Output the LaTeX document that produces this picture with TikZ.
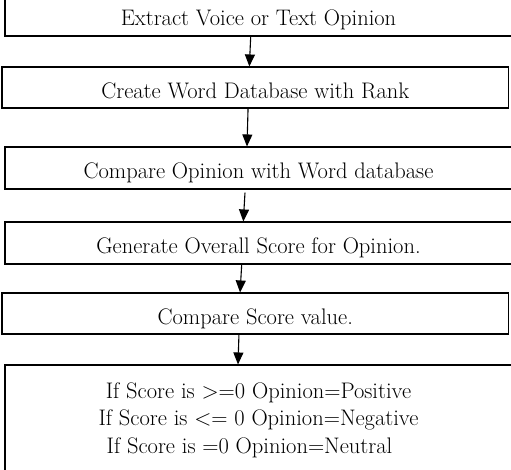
\documentclass[tikz,border=0pt]{standalone}
\usepackage{fontspec}
\usepackage{tikz}
\usetikzlibrary{arrows.meta}

\begin{document}
\begin{tikzpicture}[x=1pt,y=-1pt,
    stage/.style={draw, line width=1.1pt, inner sep=0pt, align=center,
        font=\fontsize{22.5}{27.5}\selectfont},
    oneline/.style={stage, text height=22.5pt, text depth=1pt},
    flow/.style={-{Triangle[width=10pt,length=12pt]}, line width=1.1pt}]
    \useasboundingbox (0,0) rectangle (511,470);
    \clip (0,0) rectangle (511,470);
    % steps
    \node[oneline, minimum width=507pt, minimum height=42pt] (extract) at (258.5,15) {Extract Voice or Text Opinion};
    \node[oneline, minimum width=506.5pt, minimum height=41pt] (database) at (255.25,87.5) {Create Word Database with Rank};
    \node[oneline, minimum width=507pt, minimum height=42pt] (compare) at (258.5,168) {Compare Opinion with Word database};
    \node[oneline, minimum width=507pt, minimum height=42pt] (score) at (258.5,243) {Generate Overall Score for Opinion.};
    \node[oneline, minimum width=506.5pt, minimum height=41pt] (value) at (255.25,313.5) {Compare Score value.};
    \node[stage, minimum width=507pt, minimum height=110pt] (result) at (258.5,420)
        {If Score is >=0 Opinion=Positive\\
         If Score is <= 0 Opinion=Negative\\
         If Score is =0 Opinion=Neutral\hspace*{18pt}};
    % arrows
    \draw[flow] ([xshift=-7.8pt]extract.south) -- ([xshift=-5.9pt]database.north);
    \draw[flow] ([xshift=-7.2pt]database.south) -- ([xshift=-11.5pt]compare.north);
    \draw[flow] ([xshift=-13.5pt,yshift=-3pt]compare.south) -- ([xshift=-15.2pt]score.north);
    \draw[flow] ([xshift=-16.8pt]score.south) -- ([xshift=-15.2pt]value.north);
    \draw[flow] ([xshift=-16.3pt]value.south) -- ([xshift=-20.5pt]result.north);
\end{tikzpicture}
\end{document}
